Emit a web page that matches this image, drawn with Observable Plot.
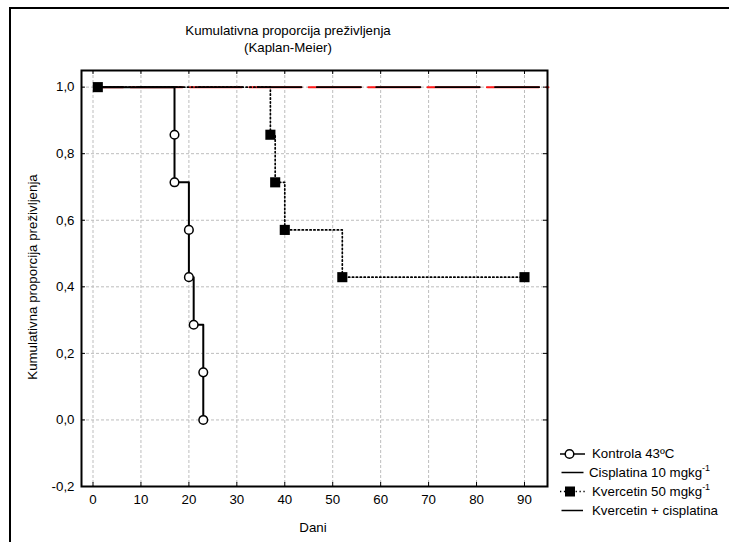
<!DOCTYPE html>
<html><head><meta charset="utf-8">
<script src="https://cdn.jsdelivr.net/npm/d3@7"></script>
<script src="https://cdn.jsdelivr.net/npm/@observablehq/plot@0.6"></script>
<style>
html,body{margin:0;padding:0;background:#fff;overflow:hidden;}
body{font-family:"Liberation Sans",Arial,sans-serif;font-size:13.3px;color:#000;}
#wrap{position:relative;width:729px;height:542px;overflow:hidden;background:#fff;}
#border{position:absolute;left:9px;top:7px;width:800px;height:600px;border-left:2px solid #000;border-top:2px solid #000;box-sizing:border-box;}
#chart{position:absolute;left:0;top:0;}
.t{position:absolute;white-space:nowrap;line-height:1;}
.title{left:288px;transform:translate(-50%,-50%);}
#ylab{left:33px;top:277px;transform:translate(-50%,-50%) rotate(-90deg);}
#xlab{left:313px;top:528px;transform:translate(-50%,-50%);}
.leg{position:absolute;left:0;top:0;}
.legtxt{position:absolute;transform:translateY(-50%);white-space:nowrap;line-height:1;}
sup{font-size:9px;vertical-align:6px;line-height:0;}
</style>
</head><body>
<div id="wrap">
  <div id="border"></div>
  <div id="chart"></div>
  <div class="t title" style="top:31px">Kumulativna proporcija preživljenja</div>
  <div class="t title" style="top:48px">(Kaplan-Meier)</div>
  <div class="t" id="ylab">Kumulativna proporcija preživljenja</div>
  <div class="t" id="xlab">Dani</div>
  <svg class="leg" width="729" height="542" style="position:absolute;left:0;top:0;pointer-events:none">
    <line x1="560" x2="585" y1="454" y2="454" stroke="#000" stroke-width="1.5"/>
    <circle cx="569.5" cy="454" r="4.3" fill="#fff" stroke="#000" stroke-width="1.5"/>
    <line x1="561.5" x2="583.5" y1="472.5" y2="472.5" stroke="#000" stroke-width="1.5"/>
    <line x1="560" x2="587" y1="491.5" y2="491.5" stroke="#000" stroke-width="1.6" stroke-dasharray="1.3,2.6"/>
    <rect x="565" y="486.5" width="10" height="10" fill="#000"/>
    <line x1="561.5" x2="583" y1="510.5" y2="510.5" stroke="#000" stroke-width="1.5"/>
  </svg>
  <div class="legtxt" style="left:592px;top:454px">Kontrola 43ºC</div>
  <div class="legtxt" style="left:589px;top:473px">Cisplatina 10 mgkg<sup>-1</sup></div>
  <div class="legtxt" style="left:592px;top:492px">Kvercetin 50 mgkg<sup>-1</sup></div>
  <div class="legtxt" style="left:592px;top:511px">Kvercetin + cisplatina</div>
</div>
<script>
// ---- data ----
const kontrolaDays = [1, 17, 17, 20, 20, 21, 23, 23];
const kontrolaSurv = [1.0, 0.857, 0.714, 0.571, 0.429, 0.286, 0.143, 0.0];
const kvercetinDays = [1, 37, 38, 40, 52, 90];
const kvercetinSurv = [1.0, 0.857, 0.714, 0.571, 0.429, 0.429];
const cisplatinaDays = [1, 95];
const cisplatinaSurv = [1.0, 1.0];
const kombDays = [1, 95];
const kombSurv = [1.0, 1.0];
const xTicks = [0, 10, 20, 30, 40, 50, 60, 70, 80, 90];
const yTicks = [-0.2, 0.0, 0.2, 0.4, 0.6, 0.8, 1.0];

const kontrola = kontrolaDays.map((d, i) => ({day: d, surv: kontrolaSurv[i]}));
const kvercetin = kvercetinDays.map((d, i) => ({day: d, surv: kvercetinSurv[i]}));
const cisplatina = cisplatinaDays.map((d, i) => ({day: d, surv: cisplatinaSurv[i]}));
const komb = kombDays.map((d, i) => ({day: d, surv: kombSurv[i]}));

const W = 729, H = 542, mL = 81, mR = 182, mT = 70, mB = 56;
const fw = W - mL - mR, fh = H - mT - mB, tk = 4;
const fmt = d => d3.format(".1f")(d).replace(".", ",").replace("−", "-");

const chart = Plot.plot({
  width: W, height: H,
  marginLeft: mL, marginRight: mR, marginTop: mT, marginBottom: mB,
  style: {fontFamily: "'Liberation Sans', Arial, sans-serif", fontSize: "13.3px", color: "#000", background: "transparent", overflow: "visible"},
  x: {domain: [-2.4, 94.8], ticks: xTicks, tickSize: 0, tickPadding: 8, label: null, tickFormat: d => String(d)},
  y: {domain: [-0.2, 1.05], ticks: yTicks, tickSize: 0, tickPadding: 7, label: null, tickFormat: fmt},
  marks: [
    Plot.ruleX(xTicks, {x: d => d, stroke: "#bdbdbd", strokeWidth: 1, strokeDasharray: "3,2"}),
    Plot.ruleY(yTicks.filter(d => d > -0.2), {y: d => d, stroke: "#bdbdbd", strokeWidth: 1, strokeDasharray: "3,2"}),
    Plot.line(cisplatina, {x: "day", y: "surv", stroke: "#ff1a1a", strokeWidth: 2, strokeDasharray: "52,7.4", strokeDashoffset: 26.7}),
    Plot.line(komb, {x: "day", y: "surv", stroke: "#000", strokeWidth: 1.6, strokeDasharray: "44.4,15", strokeDashoffset: 18.7}),
    Plot.line(kontrola, {x: "day", y: "surv", curve: "step-after", stroke: "#000", strokeWidth: 2}),
    Plot.line(kvercetin, {x: "day", y: "surv", curve: "step-after", stroke: "#000", strokeWidth: 1.7, strokeDasharray: "1.3,2.6"}),
    Plot.dot(kontrola.slice(1), {x: "day", y: "surv", r: 4.3, fill: "#fff", stroke: "#000", strokeWidth: 1.5}),
    Plot.dot(kvercetin, {x: "day", y: "surv", symbol: "square", r: 5.7, fill: "#000", stroke: "none"}),
    Plot.ruleX(xTicks, {x: d => d, insetTop: fh - tk, stroke: "#000"}),
    Plot.ruleX(xTicks, {x: d => d, insetBottom: fh - tk, stroke: "#000"}),
    Plot.ruleY(yTicks, {y: d => d, insetRight: fw - tk, stroke: "#000"}),
    Plot.ruleY(yTicks, {y: d => d, insetLeft: fw - tk, stroke: "#000"}),
    Plot.frame({stroke: "#000", strokeWidth: 2})
  ]
});
document.getElementById("chart").appendChild(chart);
</script>
</body></html>
